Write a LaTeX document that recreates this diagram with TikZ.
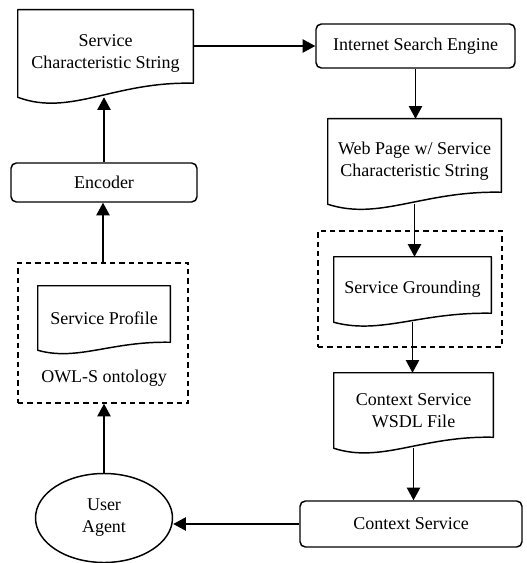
\documentclass[tikz,border=0pt]{standalone}
\usepackage{fontspec}
\setmainfont{Liberation Serif}
\usetikzlibrary{arrows.meta,calc,shapes.geometric}

\newcommand{\px}{0.75pt}
\tikzset{
  every node/.style={font=\fontsize{13.5}{16.5}\selectfont, inner sep=0pt, align=center},
  line/.style={line width=1.1pt, line join=round},
  box/.style={line, draw, rounded corners=4pt},
  doc/.style={draw=none},
  grp/.style={draw, line width=1.1pt, dash pattern=on 4pt off 3pt},
  arr/.style={line, -{Triangle[length=9.5pt,width=10pt]}},
}
% document outline: straight top and sides, wavy bottom rising to the right
\newcommand{\docshape}[2]{%
  \draw[line] (#1.south west) -- (#1.north west) -- (#1.north east) -- ($(#1.south east)+(0,-#2)$)
    .. controls ($(#1.south west)!0.55!(#1.south east)+(0,-1.15*#2)$)
    and ($(#1.south west)!0.3!(#1.south east)+(0,1.4*#2)$) .. (#1.south west) -- cycle;}

\begin{document}
\begin{tikzpicture}[x=\px, y=-\px]
  \useasboundingbox (0,0) rectangle (526,563);

  % left column
  \node[doc, minimum width=175*\px, minimum height=87*\px] (scs) at (105.5,53.5) {Service\\Characteristic String};
  \node[box, minimum width=186*\px, minimum height=39*\px] (enc) at (104,182.5) {Encoder};
  \node[grp, minimum width=170*\px, minimum height=140*\px] (owl) at (103,333) {};
  \node[doc, minimum width=132*\px, minimum height=64*\px] (prof) at (104,318) {Service Profile};
  \node (owllbl) at (104,378) {OWL-S ontology};
  \node[line, draw, ellipse, minimum width=137*\px, minimum height=89*\px] (ua) at (104,518) {User\\Agent};

  % right column
  \node[box, minimum width=199*\px, minimum height=44*\px] (ise) at (415.5,46) {Internet Search Engine};
  \node[doc, minimum width=173*\px, minimum height=85*\px] (web) at (414.5,161.5) {Web Page w/ Service\\Characteristic String};
  \node[grp, minimum width=184*\px, minimum height=116*\px] (grd) at (410,289) {};
  \node[doc, minimum width=157*\px, minimum height=65*\px] (sg) at (412.5,289.5) {Service Grounding};
  \node[doc, minimum width=159*\px, minimum height=75*\px] (wsdl) at (413.5,410.5) {Context Service\\WSDL File};
  \node[box, minimum width=222*\px, minimum height=46*\px] (cs) at (411,524) {Context Service};

  \docshape{scs}{14}
  \docshape{prof}{8}
  \docshape{web}{12}
  \docshape{sg}{9}
  \docshape{wsdl}{11}

  % flow
  \draw[arr] (enc.north) -- (enc.north |- scs.south);
  \draw[arr] (ise.west -| scs.east) -- (ise.west);
  \draw[arr] (ise.south) -- (ise.south |- web.north);
  \draw[arr] (web.south) -- (web.south |- sg.north);
  \draw[arr] (sg.south) -- (sg.south |- wsdl.north);
  \draw[arr] (wsdl.south) -- (wsdl.south |- cs.north);
  \draw[arr] (cs.west) -- (cs.west -| ua.east);
  \draw[arr] (ua.north) -- (ua.north |- owl.south);
  \draw[arr] (owl.north) -- (owl.north |- enc.south);
\end{tikzpicture}
\end{document}
